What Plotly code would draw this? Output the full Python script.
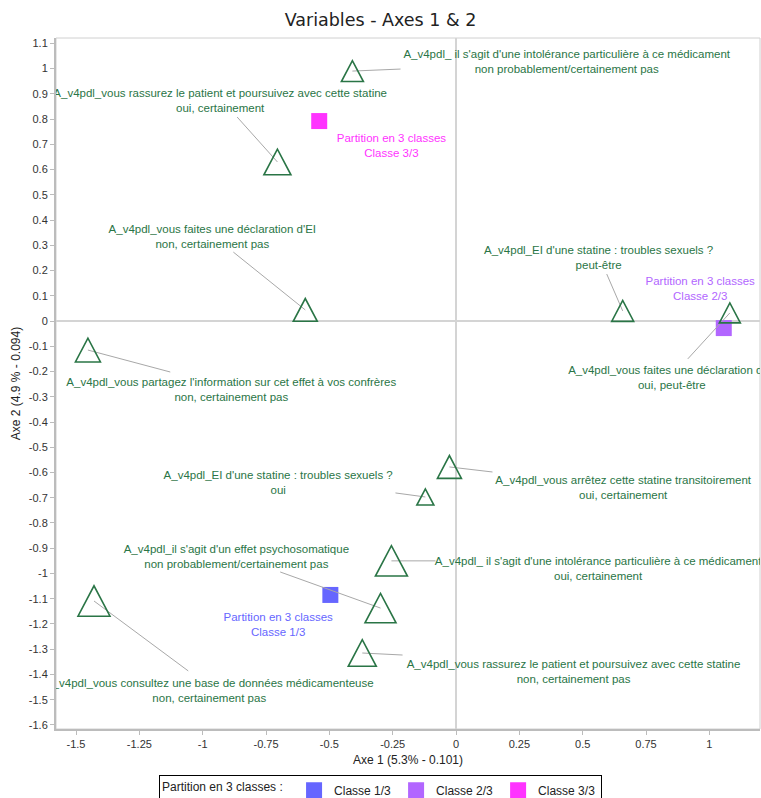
import plotly.graph_objects as go

# ---------------- data ----------------
var_x = [-0.409, -0.705, -0.595, -1.453, 0.658, 1.081, -0.026, -0.121, -0.255, -0.298, -0.370, -1.429]
var_y = [0.990, 0.630, 0.044, -0.115, 0.040, 0.032, -0.578, -0.697, -0.950, -1.137, -1.315, -1.109]
var_names = [
    "A_v4pdl_ il s'agit d'une intolérance particulière à ce médicament",
    "A_v4pdl_vous rassurez le patient et poursuivez avec cette statine",
    "A_v4pdl_vous faites une déclaration d'EI",
    "A_v4pdl_vous partagez l'information sur cet effet à vos confrères",
    "A_v4pdl_EI d'une statine : troubles sexuels ?",
    "A_v4pdl_vous faites une déclaration d'EI",
    "A_v4pdl_vous arrêtez cette statine transitoirement",
    "A_v4pdl_EI d'une statine : troubles sexuels ?",
    "A_v4pdl_ il s'agit d'une intolérance particulière à ce médicament",
    "A_v4pdl_il s'agit d'un effet psychosomatique",
    "A_v4pdl_vous rassurez le patient et poursuivez avec cette statine",
    "A_v4pdl_vous consultez une base de données médicamenteuse",
]
var_modalities = [
    "non probablement/certainement pas",
    "oui, certainement",
    "non, certainement pas",
    "non, certainement pas",
    "peut-être",
    "oui, peut-être",
    "oui, certainement",
    "oui",
    "oui, certainement",
    "non probablement/certainement pas",
    "non, certainement pas",
    "non, certainement pas",
]
var_weight = [22, 27, 24, 25, 22, 21, 24, 17, 32, 31, 28, 32]  # triangle size (px width)

# label placement (data coordinates) and leader-line ends
label_x = [0.437, -0.931, -0.962, -0.887, 0.563, 0.852, 0.660, -0.702, 0.561, -0.867, 0.464, -0.974]
label_y = [1.022, 0.869, 0.331, -0.277, 0.247, -0.228, -0.665, -0.644, -0.984, -0.937, -1.392, -1.467]
leader_x = [-0.219, -0.864, -0.879, -1.128, 0.595, 0.915, 0.144, -0.239, -0.081, -0.694, -0.211, -1.057]
leader_y = [0.998, 0.808, 0.273, -0.202, 0.186, -0.150, -0.598, -0.681, -0.950, -0.994, -1.323, -1.386]

class_names = ["Classe 1/3", "Classe 2/3", "Classe 3/3"]
class_x = [-0.496, 1.057, -0.540]
class_y = [-1.085, -0.028, 0.792]
class_label_x = [-0.702, 0.964, -0.255]
class_label_y = [-1.206, 0.125, 0.691]
class_colors = ["#6666ff", "#b266ff", "#ff33ff"]
partition_title = "Partition en 3 classes"

x_ticks = [-1.5, -1.25, -1, -0.75, -0.5, -0.25, 0, 0.25, 0.5, 0.75, 1]
y_ticks = [round(1.1 - 0.1 * i, 1) for i in range(28)]

GREEN = "#2a7546"
FONT = "Liberation Sans, Arial, sans-serif"


def fmt(v):
    return "%g" % v


fig = go.Figure()

# variable labels (clipped to plot area)
fig.add_trace(go.Scatter(
    x=label_x, y=label_y, mode="text",
    text=[f"{n}<br>{m}" for n, m in zip(var_names, var_modalities)],
    textposition="middle center",
    textfont=dict(family=FONT, size=11.5, color=GREEN),
    cliponaxis=True, showlegend=False, hoverinfo="skip",
))

# class markers
for i, name in enumerate(class_names):
    fig.add_trace(go.Scatter(
        x=[class_x[i]], y=[class_y[i]], mode="markers",
        marker=dict(symbol="square", size=16, color=class_colors[i], line=dict(width=0)),
        name=name, showlegend=True, cliponaxis=True,
        hovertext=[f"{partition_title}<br>{name}"], hoverinfo="text",
    ))
    fig.add_trace(go.Scatter(
        x=[class_label_x[i]], y=[class_label_y[i]], mode="text",
        text=[f"{partition_title}<br>{name}"],
        textposition="middle center",
        textfont=dict(family=FONT, size=11.5, color=class_colors[i]),
        cliponaxis=True, showlegend=False, hoverinfo="skip",
    ))

# leader lines
for i in range(len(var_x)):
    fig.add_shape(type="line", xref="x", yref="y",
                  x0=var_x[i], y0=var_y[i], x1=leader_x[i], y1=leader_y[i],
                  line=dict(color="#a8a8a8", width=1), layer="above")

# triangles (pixel-sized, anchored at data points)
for i in range(len(var_x)):
    s = var_weight[i]
    a = s / 2.0
    h = 0.95 * s
    path = f"M {-a},{-h/2} L {a},{-h/2} L 0,{h/2} Z"
    fig.add_shape(type="path", xref="x", yref="y",
                  xsizemode="pixel", ysizemode="pixel",
                  xanchor=var_x[i], yanchor=var_y[i], path=path,
                  line=dict(color=GREEN, width=1.6), fillcolor="rgba(0,0,0,0)",
                  layer="above")

# thin frame (top / right)
fig.add_shape(type="rect", xref="paper", yref="paper", x0=0, y0=0, x1=1, y1=1,
              line=dict(color="#d0d0d0", width=1), layer="below")

fig.update_layout(
    width=761, height=798,
    margin=dict(l=56, r=1, t=38, b=69, autoexpand=False),
    paper_bgcolor="white", plot_bgcolor="white",
    font=dict(family=FONT, size=11, color="#222222"),
    title=dict(text="Variables - Axes 1 & 2", x=0.5, xanchor="center",
               y=0.975, yanchor="middle", yref="container",
               font=dict(family="DejaVu Sans, sans-serif", size=17.5, color="#222222")),
    xaxis=dict(range=[-1.579, 1.20], tickvals=x_ticks, ticktext=[fmt(v) for v in x_ticks],
               automargin=False,
               showgrid=False, zeroline=True, zerolinecolor="#d4d4d4", zerolinewidth=1.5,
               showline=True, linecolor="#bcbcbc", linewidth=2, mirror=False,
               ticks="outside", ticklen=4, tickcolor="#bcbcbc",
               tickfont=dict(size=11, color="#333333"),
               title=dict(text="Axe 1 (5.3% - 0.101)", standoff=6,
                          font=dict(size=12, color="#222222"))),
    yaxis=dict(range=[-1.616, 1.121], tickvals=y_ticks, ticktext=[fmt(v) for v in y_ticks],
               automargin=False,
               showgrid=False, zeroline=True, zerolinecolor="#d4d4d4", zerolinewidth=1.5,
               showline=True, linecolor="#bcbcbc", linewidth=2, mirror=False,
               ticks="outside", ticklen=4, tickcolor="#bcbcbc",
               tickfont=dict(size=11, color="#333333"),
               title=dict(text="Axe 2 (4.9 % - 0.094)", standoff=6,
                          font=dict(size=12, color="#222222"))),
    legend=dict(orientation="h", xref="container", yref="container",
                x=0.5, xanchor="center", y=0.029, yanchor="top",
                bgcolor="white", bordercolor="black", borderwidth=1,
                font=dict(size=12, color="#222222"), itemwidth=30,
                title=dict(text=partition_title + " : ", font=dict(size=12, color="#222222"))),
    showlegend=True,
)

fig.write_html("out.html", config={"displayModeBar": False},
               post_script="document.body.style.margin='0';")
